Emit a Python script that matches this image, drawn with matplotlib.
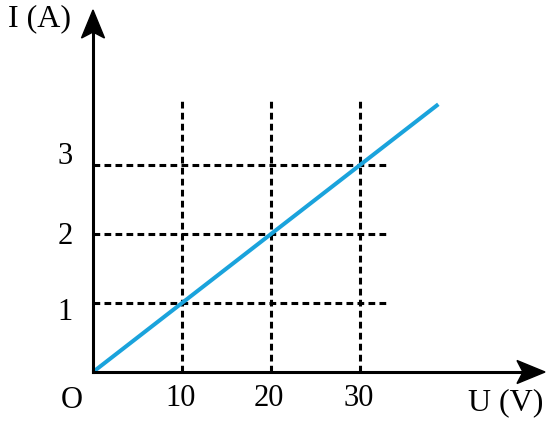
import numpy as np
import matplotlib.pyplot as plt
from matplotlib.patches import Polygon

# data
u_line = [0, 38.8]          # U (V)
i_line = [0, 3.88]          # I (A)
u_ticks = [10, 20, 30]
i_ticks = [1, 2, 3]
u_tick_labels = ["10", "20", "30"]
i_tick_labels = ["1", "2", "3"]

# pixel scale of the drawing (px per unit)
PX_U = 8.9
PX_I = 69.0
X0, Y0 = 93, 372            # origin in pixels
W, H = 557, 425

plt.rcParams["font.family"] = ["Liberation Serif", "DejaVu Serif"]

fig = plt.figure(figsize=(W / 100, H / 100), dpi=100)
ax = fig.add_axes([0, 0, 1, 1])
ax.set_xlim(-X0 / PX_U, (W - X0) / PX_U)
ax.set_ylim(-(H - Y0) / PX_I, Y0 / PX_I)
ax.axis("off")

grid_top = (Y0 - 101) / PX_I
grid_right = (390 - X0) / PX_U
dash_kw = dict(color="black", lw=2.2, dashes=(2.2, 1.4))

for u in u_ticks:
    ax.plot([u, u], [0, grid_top], **dash_kw)
for i in i_ticks:
    ax.plot([0, grid_right], [i, i], **dash_kw)

# the I-U line
ax.plot(u_line, i_line, color="#1aa3dc", lw=2.9, solid_capstyle="butt", zorder=3)

# axes with arrows
x_tip = (545 - X0) / PX_U
y_tip = (Y0 - 10) / PX_I
ax.plot([0, x_tip - 20 / PX_U], [0, 0], color="black", lw=2.2, zorder=4)
ax.plot([0, 0], [0, y_tip - 20 / PX_I], color="black", lw=2.2, zorder=4)

head_len, head_half, notch = 28, 11.5, 6
ax.add_patch(Polygon([
    (x_tip, 0),
    (x_tip - head_len / PX_U, head_half / PX_I),
    (x_tip - (head_len - notch) / PX_U, 0),
    (x_tip - head_len / PX_U, -head_half / PX_I),
], closed=True, color="black", zorder=5))
ax.add_patch(Polygon([
    (0, y_tip),
    (-head_half / PX_U, y_tip - head_len / PX_I),
    (0, y_tip - (head_len - notch) / PX_I),
    (head_half / PX_U, y_tip - head_len / PX_I),
], closed=True, color="black", zorder=5))

# labels
fs = 22
for u, lab in zip(u_ticks, u_tick_labels):
    ax.text(u - 0.2, -27 / PX_I, lab, fontsize=fs, ha="center", va="center")
label_offsets = [10, 3, -8]   # small pixel nudges seen in the picture
for i, lab, off in zip(i_ticks, i_tick_labels, label_offsets):
    ax.text(-28 / PX_U, i - off / PX_I, lab, fontsize=fs, ha="center", va="center")

ax.text(-21 / PX_U, -29 / PX_I, "O", fontsize=fs, ha="center", va="center")
ax.text((506 - X0) / PX_U, -31 / PX_I, "U (V)", fontsize=23, ha="center", va="center")
ax.text((40 - X0) / PX_U, (Y0 - 19) / PX_I, "I (A)", fontsize=23, ha="center", va="center")

fig.savefig("out.png", dpi=100)
